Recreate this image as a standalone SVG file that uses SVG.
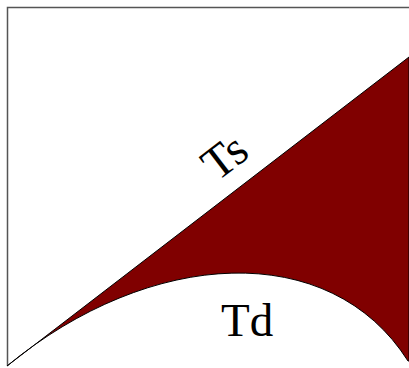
<svg xmlns="http://www.w3.org/2000/svg" width="409" height="368" viewBox="0 0 409 368">
<style>
.frame{fill:none;stroke:#555;stroke-width:1.5}
.region{fill:#800000;stroke:#000;stroke-width:1}
.lbl{font-family:"Liberation Serif","Times New Roman",serif;fill:#000}
</style>
<rect width="409" height="368" fill="#fff"/>
<g id="frame"><path class="frame" d="M7.5,366 V7.5 H409"/></g>
<g id="region"><path class="region" d="M7,366 L409,57 L409,361 L408,361 C330,238 150,248 7,366 Z"/></g>
<g id="ts"><text class="lbl" font-size="47" text-anchor="middle" transform="translate(234,169) rotate(-37.5)">Ts</text></g>
<g id="td"><text class="lbl" font-size="47" x="221" y="336">Td</text></g>
</svg>
